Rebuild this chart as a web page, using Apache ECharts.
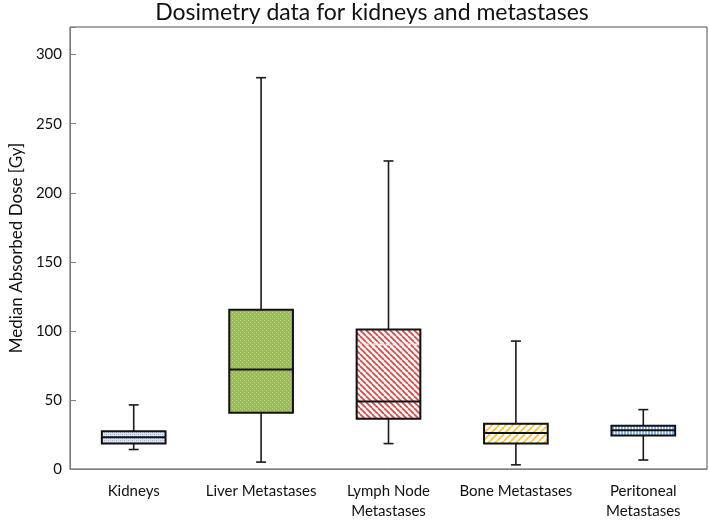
<!DOCTYPE html>
<html><head><meta charset="utf-8">
<script src="https://cdn.jsdelivr.net/npm/echarts@6/dist/echarts.min.js"></script>
<style>html,body{margin:0;padding:0;background:#fff}#c{width:709px;height:521px}</style>
</head><body><div id="c"></div>
<script>
const categories = ['Kidneys', 'Liver Metastases', 'Lymph Node\nMetastases', 'Bone Metastases', 'Peritoneal\nMetastases'];
const minVals    = [14.1, 5.0, 18.4, 3.0, 6.5];
const q1Vals     = [18.4, 40.7, 36.4, 18.4, 24.2];
const medianVals = [23.0, 72.0, 48.8, 26.0, 28.0];
const q3Vals     = [27.3, 115.3, 101.0, 32.8, 31.4];
const maxVals    = [46.4, 283.3, 223.0, 92.6, 43.0];
const meanVals   = [null, null, 90.2, null, null];
const yTicks = [0, 50, 100, 150, 200, 250, 300];

function makePattern(w, h, draw) {
  const c = document.createElement('canvas');
  c.width = w; c.height = h;
  const g = c.getContext('2d');
  draw(g, w, h);
  return { image: c, repeat: 'repeat' };
}
const patterns = [
  makePattern(4, 4, (g) => { g.fillStyle = '#dbe5f1'; g.fillRect(0,0,4,4); g.fillStyle = '#95b3d7'; g.fillRect(0,0,1,1); g.fillRect(2,2,1,1); g.fillStyle='#b8cce4'; g.fillRect(2,0,1,1); g.fillRect(0,2,1,1); }),
  makePattern(4, 4, (g) => { g.fillStyle = '#9bbb59'; g.fillRect(0,0,4,4); g.fillStyle = '#c3d69b'; g.fillRect(0,0,1,1); g.fillRect(2,2,1,1); }),
  makePattern(6, 6, (g) => { g.fillStyle = '#fbeeee'; g.fillRect(0,0,6,6); g.strokeStyle = '#c0504d'; g.lineWidth = 1.6;
    for (let k = -6; k <= 12; k += 6) { g.beginPath(); g.moveTo(k, 0); g.lineTo(k + 6, 6); g.stroke(); } }),
  makePattern(7, 7, (g) => { g.fillStyle = '#fffdf5'; g.fillRect(0,0,7,7); g.strokeStyle = '#f2c244'; g.lineWidth = 1.8;
    for (let k = -7; k <= 14; k += 7) { g.beginPath(); g.moveTo(k, 7); g.lineTo(k + 7, 0); g.stroke(); } }),
  makePattern(3, 3, (g) => { g.fillStyle = '#ffffff'; g.fillRect(0,0,3,3); g.fillStyle = '#8db4e2'; g.fillRect(0,0,2,3); })
];

const boxData = categories.map((c, i) => [i, minVals[i], q1Vals[i], medianVals[i], q3Vals[i], maxVals[i], meanVals[i] == null ? NaN : meanVals[i]]);

const chart = echarts.init(document.getElementById('c'), null, { renderer: 'canvas' });
const fontFam = 'Lato, "Open Sans", sans-serif';
chart.setOption({
  animation: false,
  backgroundColor: '#ffffff',
  title: {
    text: 'Dosimetry data for kidneys and metastases',
    left: 372, top: 1, textAlign: 'center', padding: 0,
    textStyle: { fontFamily: fontFam, fontSize: 23, fontWeight: 'normal', color: '#111' }
  },
  grid: { left: 58, right: 2, top: 27, bottom: 48, show: true, borderColor: '#505050', borderWidth: 1 },
  xAxis: {
    type: 'category', data: categories, boundaryGap: true,
    axisLine: { lineStyle: { color: '#7f7f7f', width: 1 } },
    axisTick: { alignWithLabel: true, length: 5, lineStyle: { color: '#7f7f7f' } },
    axisLabel: { fontFamily: fontFam, fontSize: 15, color: '#111', margin: 12, lineHeight: 20, interval: 0 },
    splitLine: { show: false }
  },
  yAxis: {
    type: 'value', min: 0, max: 320, interval: 50,
    name: 'Median Absorbed Dose [Gy]', nameLocation: 'middle', nameGap: 38,
    nameTextStyle: { fontFamily: fontFam, fontSize: 17, color: '#111' },
    axisLine: { show: true, lineStyle: { color: '#7f7f7f' } },
    axisTick: { show: true, inside: true, length: 6, lineStyle: { color: '#7f7f7f' } },
    axisLabel: { fontFamily: fontFam, fontSize: 15, color: '#111', margin: 8,
      formatter: (v) => yTicks.indexOf(v) >= 0 ? String(v) : '' },
    splitLine: { show: false }
  },
  series: [{
    type: 'custom',
    data: boxData,
    encode: { x: 0, y: [1, 2, 3, 4, 5] },
    renderItem: function (params, api) {
      const i = api.value(0);
      const pMin = api.coord([i, api.value(1)]);
      const pQ1 = api.coord([i, api.value(2)]);
      const pMed = api.coord([i, api.value(3)]);
      const pQ3 = api.coord([i, api.value(4)]);
      const pMax = api.coord([i, api.value(5)]);
      const bw = api.size([1, 0])[0] * 0.5;
      const cx = pMed[0];
      const cap = 5;
      const wStyle = { stroke: '#1a1a1a', lineWidth: 1.6 };
      const children = [
        { type: 'line', shape: { x1: cx, y1: pQ1[1], x2: cx, y2: pMin[1] }, style: wStyle },
        { type: 'line', shape: { x1: cx, y1: pQ3[1], x2: cx, y2: pMax[1] }, style: wStyle },
        { type: 'line', shape: { x1: cx - cap, y1: pMin[1], x2: cx + cap, y2: pMin[1] }, style: wStyle },
        { type: 'line', shape: { x1: cx - cap, y1: pMax[1], x2: cx + cap, y2: pMax[1] }, style: wStyle },
        { type: 'rect', shape: { x: cx - bw / 2, y: pQ3[1], width: bw, height: pQ1[1] - pQ3[1] },
          style: { fill: patterns[params.dataIndex], stroke: '#111', lineWidth: 2 } }
      ];
      const mv = api.value(6);
      if (!isNaN(mv)) {
        const pMean = api.coord([i, mv]);
        children.push({ type: 'line', shape: { x1: cx - bw / 2 + 1, y1: pMean[1], x2: cx + bw / 2 - 1, y2: pMean[1] },
          style: { stroke: '#f7e4e4', lineWidth: 2, lineDash: [4, 3] } });
      }
      children.push({ type: 'line', shape: { x1: cx - bw / 2, y1: pMed[1], x2: cx + bw / 2, y2: pMed[1] },
        style: { stroke: '#111', lineWidth: 2 } });
      return { type: 'group', children: children };
    }
  }]
});
</script></body></html>
